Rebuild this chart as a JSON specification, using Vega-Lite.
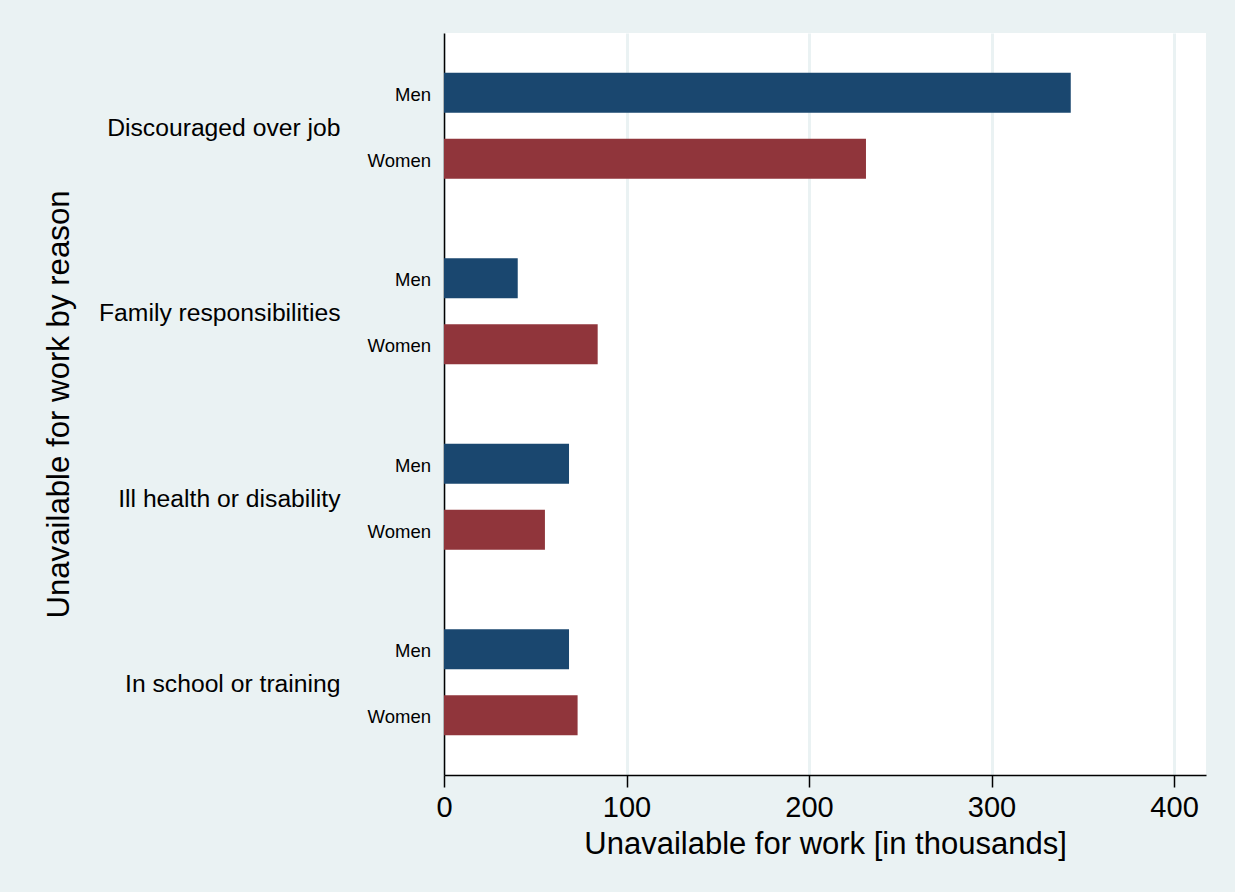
{
  "$schema": "https://vega.github.io/schema/vega-lite/v6.json",
  "background": "#eaf2f3",
  "autosize": {"type": "none"},
  "padding": {"left": 444, "top": 33, "right": 29, "bottom": 117},
  "width": 762,
  "height": 742,
  "data": {
    "values": [
      {"reason": "Discouraged over job", "sex": "Men", "value": 343.4},
      {"reason": "Discouraged over job", "sex": "Women", "value": 231.2},
      {"reason": "Family responsibilities", "sex": "Men", "value": 40.4},
      {"reason": "Family responsibilities", "sex": "Women", "value": 84.2},
      {"reason": "Ill health or disability", "sex": "Men", "value": 68.5},
      {"reason": "Ill health or disability", "sex": "Women", "value": 55.3},
      {"reason": "In school or training", "sex": "Men", "value": 68.5},
      {"reason": "In school or training", "sex": "Women", "value": 73.2}
    ]
  },
  "encoding": {
    "y": {
      "field": "reason",
      "type": "nominal",
      "sort": ["Discouraged over job", "Family responsibilities", "Ill health or disability", "In school or training"],
      "scale": {"paddingInner": 0, "paddingOuter": 0},
      "axis": {
        "title": "Unavailable for work by reason",
        "titleFont": "Liberation Sans",
        "titleFontSize": 31.2,
        "titleFontWeight": "normal",
        "titleColor": "black",
        "titlePadding": 169,
        "ticks": false,
        "labelPadding": 104,
        "labelOffset": 3,
        "labelFont": "Liberation Sans",
        "labelFontSize": 24.7,
        "labelColor": "black",
        "labelLimit": 400,
        "domainColor": "black",
        "domainWidth": 1.5
      }
    },
    "yOffset": {
      "field": "sex",
      "type": "nominal",
      "sort": ["Men", "Women"],
      "scale": {"paddingInner": 0.394, "paddingOuter": 0.602}
    }
  },
  "layer": [
    {
      "mark": {"type": "bar"},
      "encoding": {
        "x": {
          "field": "value",
          "type": "quantitative",
          "scale": {"domain": [0, 417.5], "nice": false, "zero": true},
          "axis": {
            "title": "Unavailable for work [in thousands]",
            "values": [0, 100, 200, 300, 400],
            "grid": true,
            "gridColor": "#eaf2f3",
            "gridWidth": 3,
            "domainColor": "black",
            "domainWidth": 1.5,
            "tickColor": "black",
            "tickWidth": 1.5,
            "tickSize": 12,
            "labelPadding": 6,
            "labelFont": "Liberation Sans",
            "labelFontSize": 29,
            "labelColor": "black",
            "labelFlush": false,
            "titleFont": "Liberation Sans",
            "titleFontSize": 31,
            "titleFontWeight": "normal",
            "titleColor": "black",
            "titlePadding": 7
          }
        },
        "color": {
          "field": "sex",
          "type": "nominal",
          "scale": {"domain": ["Men", "Women"], "range": ["#1a476f", "#90353b"]},
          "legend": null
        }
      }
    },
    {
      "mark": {
        "type": "text",
        "align": "right",
        "baseline": "middle",
        "dx": -13,
        "dy": 2,
        "font": "Liberation Sans",
        "fontSize": 18.5,
        "color": "black"
      },
      "encoding": {
        "x": {"datum": 0, "type": "quantitative"},
        "text": {"field": "sex", "type": "nominal"}
      }
    }
  ],
  "config": {
    "view": {"fill": "white", "stroke": null}
  }
}
